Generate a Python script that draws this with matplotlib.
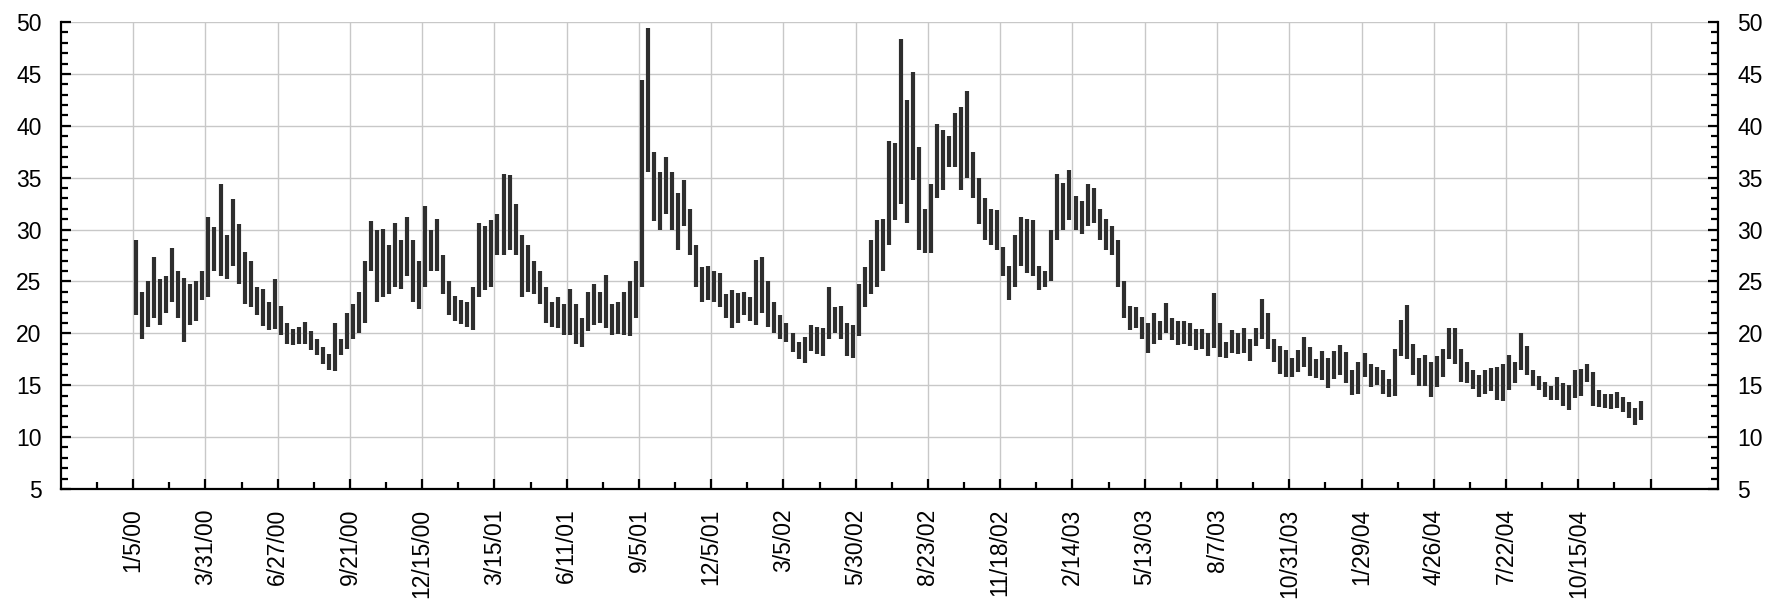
import numpy as np
import matplotlib
matplotlib.use("Agg")
import matplotlib.pyplot as plt
from matplotlib.ticker import FixedLocator, MultipleLocator

plt.rcParams["font.family"] = ["Liberation Sans", "DejaVu Sans"]

DAYS_PER_LABEL = 60
DAYS_PER_BAR = 5

tick_labels = ["1/5/00", "3/31/00", "6/27/00", "9/21/00", "12/15/00", "3/15/01",
               "6/11/01", "9/5/01", "12/5/01", "3/5/02", "5/30/02", "8/23/02",
               "11/18/02", "2/14/03", "5/13/03", "8/7/03", "10/31/03", "1/29/04",
               "4/26/04", "7/22/04", "10/15/04", ""]

week_high = [
    # 2000
    29.0, 24.0, 25.0, 27.4, 25.2, 25.5, 28.2, 26.0, 25.3, 24.8, 25.0, 26.0,
    31.2, 30.2, 34.4, 29.5, 32.9, 30.5, 27.8, 27.0, 24.5, 24.3, 23.0, 25.2,
    22.6, 21.0, 20.4, 20.6, 21.1, 20.2, 19.5, 18.7, 18.0, 21.0, 19.5, 22.0,
    22.8, 24.0, 27.0, 30.8, 30.0, 30.1, 28.5, 30.6, 29.0, 31.2, 29.0, 27.0,
    # 2001
    32.3, 30.0, 31.0, 27.5, 25.0, 23.6, 23.2, 23.0, 24.5, 30.6, 30.3, 30.9,
    31.5, 35.4, 35.3, 32.5, 29.5, 28.5, 27.0, 26.0, 24.5, 23.0, 23.5, 22.8,
    24.3, 22.8, 21.5, 24.0, 24.8, 24.0, 25.6, 22.8, 23.0, 24.0, 25.0, 27.0,
    44.4, 49.4, 37.5, 35.5, 37.0, 35.5, 33.5, 34.8, 32.0, 28.5, 26.4, 26.5,
    # 2002
    26.0, 25.8, 23.8, 24.2, 23.9, 24.0, 23.5, 27.1, 27.4, 25.0, 23.0, 21.8,
    21.0, 20.0, 19.2, 19.6, 20.8, 20.6, 20.5, 24.5, 22.5, 22.6, 21.0, 20.8,
    24.8, 26.4, 29.0, 30.9, 31.0, 38.5, 38.3, 48.4, 42.5, 45.2, 38.0, 32.0,
    34.4, 40.2, 39.6, 39.0, 41.2, 41.8, 43.4, 37.5, 35.0, 33.0, 32.0, 31.9,
    # 2003
    28.3, 26.5, 29.5, 31.2, 31.0, 30.9, 26.5, 26.0, 30.0, 35.4, 34.5, 35.7,
    33.2, 32.8, 34.4, 34.0, 32.0, 31.0, 30.3, 29.0, 25.0, 22.6, 22.5, 21.6,
    21.0, 22.0, 21.2, 22.9, 21.5, 21.2, 21.2, 21.0, 20.4, 20.4, 20.0, 23.9,
    21.0, 19.2, 20.3, 20.0, 20.5, 19.5, 20.5, 23.3, 22.0, 19.5, 18.8, 18.4,
    # 2004
    17.6, 18.4, 19.6, 18.7, 17.5, 18.3, 17.6, 18.3, 18.9, 18.2, 16.5, 17.2,
    18.1, 17.0, 16.8, 16.5, 15.6, 18.5, 21.3, 22.7, 19.0, 17.6, 17.9, 17.2,
    17.8, 18.5, 20.5, 20.5, 18.5, 17.2, 16.5, 16.0, 16.5, 16.7, 16.8, 17.0,
    17.9, 17.2, 20.0, 18.8, 16.5, 15.9, 15.3, 14.9, 15.8, 15.2, 15.0, 16.5,
    16.6, 17.0, 16.3, 14.5, 14.2, 14.2, 14.3, 13.9, 13.4, 12.8, 13.5,
]

week_low = [
    # 2000
    21.8, 19.5, 20.6, 21.5, 20.8, 22.0, 23.0, 21.5, 19.2, 20.8, 21.2, 23.2,
    23.5, 26.0, 25.5, 25.2, 26.5, 24.8, 22.8, 22.5, 21.8, 20.7, 20.3, 20.4,
    19.8, 19.0, 18.9, 19.0, 19.0, 18.4, 17.9, 17.0, 16.5, 16.4, 17.9, 18.5,
    19.5, 20.0, 21.0, 26.0, 23.0, 23.5, 23.8, 24.5, 24.3, 25.5, 23.0, 22.3,
    # 2001
    24.5, 26.0, 26.0, 23.8, 21.8, 21.2, 20.9, 20.6, 20.3, 23.5, 24.2, 24.5,
    27.5, 27.5, 28.0, 27.5, 23.5, 24.0, 23.8, 22.8, 21.0, 20.6, 20.5, 19.8,
    19.8, 19.0, 18.7, 20.2, 20.8, 21.0, 20.5, 19.8, 19.9, 19.8, 19.7, 21.5,
    24.5, 35.5, 30.8, 30.0, 31.5, 30.0, 28.0, 30.3, 27.5, 24.5, 23.0, 23.2,
    # 2002
    23.0, 22.5, 21.5, 20.5, 21.0, 21.8, 21.2, 20.8, 22.0, 20.6, 20.0, 19.5,
    19.2, 18.2, 17.5, 17.1, 18.3, 18.0, 17.8, 19.5, 20.0, 19.5, 17.8, 17.6,
    19.7, 22.5, 23.8, 24.5, 26.0, 28.5, 30.9, 32.5, 30.6, 34.8, 28.0, 27.7,
    27.7, 33.0, 33.8, 36.0, 36.0, 33.8, 35.0, 33.0, 30.5, 29.0, 28.5, 28.0,
    # 2003
    25.5, 23.2, 24.5, 26.5, 25.8, 25.5, 24.2, 24.5, 25.0, 29.0, 30.0, 30.9,
    30.0, 29.6, 30.3, 30.6, 29.0, 28.0, 27.5, 24.5, 21.5, 20.3, 20.5, 19.5,
    18.1, 19.0, 19.4, 20.0, 19.4, 18.9, 19.0, 18.8, 18.4, 18.5, 17.8, 18.6,
    17.7, 17.6, 18.1, 18.0, 18.1, 17.3, 18.8, 19.5, 18.5, 17.2, 16.1, 15.8,
    # 2004
    15.8, 16.3, 16.8, 15.9, 15.7, 15.5, 14.7, 15.6, 16.0, 15.2, 14.1, 14.2,
    15.8, 14.8, 15.0, 14.2, 13.9, 14.0, 17.8, 17.5, 16.0, 14.9, 14.9, 13.9,
    14.8, 15.8, 17.5, 17.0, 15.3, 15.2, 14.6, 13.9, 14.2, 14.4, 13.6, 13.5,
    14.5, 15.2, 16.5, 16.0, 14.9, 14.5, 13.9, 13.6, 13.6, 13.0, 12.6, 13.8,
    14.0, 15.3, 13.0, 12.9, 12.8, 12.7, 12.8, 12.4, 11.8, 11.2, 11.6,
]


def main():
    hi = np.array(week_high)
    lo = np.array(week_low)
    x = np.arange(len(hi)) * DAYS_PER_BAR + DAYS_PER_BAR / 2

    fig = plt.figure(figsize=(17.72, 6.10), dpi=100)
    ax = fig.add_axes([0.0344, 0.1984, 0.9351, 0.7655])

    ax.vlines(x, lo, hi, color="#2e2e2e", linewidth=3.0, zorder=3)

    ax.set_xlim(-DAYS_PER_LABEL, 1316)
    ax.set_ylim(5, 50)

    major_x = np.arange(len(tick_labels)) * DAYS_PER_LABEL
    ax.xaxis.set_major_locator(FixedLocator(major_x))
    ax.xaxis.set_minor_locator(FixedLocator(major_x - DAYS_PER_LABEL / 2))
    ax.set_xticklabels(tick_labels, rotation=90, fontsize=16.5)

    ax.yaxis.set_major_locator(MultipleLocator(5))
    ax.yaxis.set_minor_locator(MultipleLocator(1))

    ax.grid(True, which="major", color="#c8c8c8", linewidth=1.0, zorder=0)
    ax.set_axisbelow(True)

    ax.tick_params(axis="both", which="major", direction="in", length=7,
                   width=1.6, labelsize=16.5, pad=14, color="black")
    ax.tick_params(axis="both", which="minor", direction="in", length=5,
                   width=1.6, color="black")
    ax.tick_params(axis="y", which="both", left=True, right=True,
                   labelleft=True, labelright=True)

    ax.spines["top"].set_visible(False)
    for side in ("left", "right", "bottom"):
        ax.spines[side].set_linewidth(1.6)

    fig.savefig("out.png", dpi=100)
    plt.close(fig)


if __name__ == "__main__":
    main()
